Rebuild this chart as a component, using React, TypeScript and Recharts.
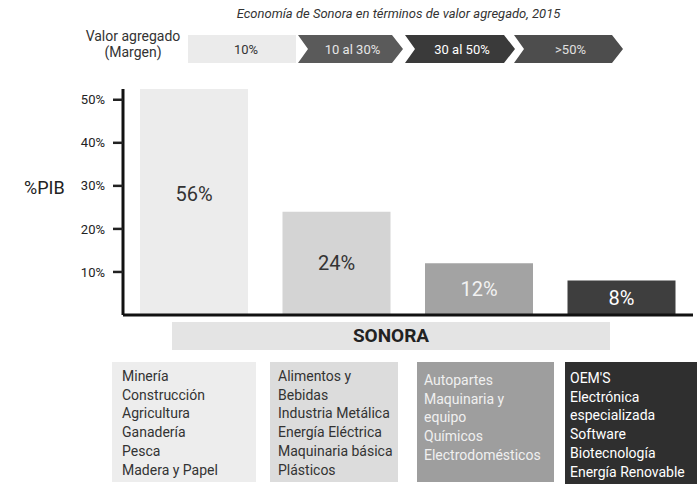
import { BarChart, Bar, XAxis, YAxis, LabelList, Cell } from 'recharts'

// Economía de Sonora en términos de valor agregado, 2015
const categories = ['<10%', '10 al 30%', '30 al 50%', '>50%']
const pibShare = [56, 24, 12, 8]
const yTicks = [10, 20, 30, 40, 50]
const marginLabels = ['10%', '10 al 30%', '30 al 50%', '>50%']
const sectors = [
  ['Minería', 'Construcción', 'Agricultura', 'Ganadería', 'Pesca', 'Madera y Papel'],
  ['Alimentos y', 'Bebidas', 'Industria Metálica', 'Energía Eléctrica', 'Maquinaria básica', 'Plásticos'],
  ['Autopartes', 'Maquinaria y', 'equipo', 'Químicos', 'Electrodomésticos'],
  ["OEM'S", 'Electrónica', 'especializada', 'Software', 'Biotecnología', 'Energía Renovable'],
]

const data = categories.map((name, i) => ({ name, value: pibShare[i] }))

const FONT = 'Roboto, "Liberation Sans", sans-serif'
const barFills = ['#ececec', '#d4d4d4', '#a3a3a3', '#3e3e3e']
const labelColors = ['#333333', '#333333', '#f2f2f2', '#ffffff']
const boxStyles = [
  { left: 112, top: 362, width: 144, height: 120, bg: '#ededed', color: '#333', pt: 5, pl: 10 },
  { left: 270, top: 362, width: 128, height: 120, bg: '#dcdcdc', color: '#333', pt: 5, pl: 8 },
  { left: 417, top: 362, width: 137, height: 120, bg: '#9e9e9e', color: '#f0f0f0', pt: 9, pl: 7 },
  { left: 565, top: 362, width: 132, height: 122, bg: '#2f2f2f', color: '#ffffff', pt: 7, pl: 5 },
]
const chevrons = [
  { l: 188, r: 296, fill: '#ebebeb', color: '#333', first: true },
  { l: 298, r: 403, fill: '#5a5a5a', color: '#e6e6e6' },
  { l: 405, r: 515, fill: '#3a3a3a', color: '#ffffff' },
  { l: 514, r: 623, fill: '#4d4d4d', color: '#e0e0e0' },
]

function BarValue(props: any) {
  const { x, y, width, height, value, index } = props
  return (
    <text
      x={x + width / 2}
      y={y + height / 2 + 7}
      textAnchor="middle"
      fontFamily={FONT}
      fontSize={20}
      fontWeight={400}
      fill={labelColors[index]}
    >
      {`${value}%`}
    </text>
  )
}

export default function App() {
  return (
    <div style={{ position: 'absolute', left: 0, top: 0, width: 697, height: 484, background: '#fff', fontFamily: FONT, overflow: 'hidden' }}>
      <div style={{ position: 'absolute', left: 0, width: 697, top: 6, textAlign: 'center', paddingLeft: 100, boxSizing: 'border-box', fontSize: 13, fontStyle: 'italic', color: '#333' }}>
        Economía de Sonora en términos de valor agregado, 2015
      </div>
      <div style={{ position: 'absolute', left: 78, top: 28, width: 110, textAlign: 'center', fontSize: 14, lineHeight: '16px', color: '#333' }}>
        Valor agregado<br />(Margen)
      </div>
      <svg width={697} height={80} style={{ position: 'absolute', left: 0, top: 0 }}>
        {chevrons.map((c, i) => {
          const pts = c.first
            ? `${c.l},35 ${c.r},35 ${c.r},63 ${c.l},63`
            : `${c.l},35 ${c.r - 11},35 ${c.r},49 ${c.r - 11},63 ${c.l},63 ${c.l + 10},49`
          return (
            <g key={i}>
              <polygon points={pts} fill={c.fill} />
              <text x={(c.l + c.r) / 2 + (c.first ? 4 : 2)} y={54} textAnchor="middle" fontSize={13} fontFamily={FONT} fill={c.color}>
                {marginLabels[i]}
              </text>
            </g>
          )
        })}
      </svg>

      <div style={{ position: 'absolute', left: 24, top: 177, fontSize: 18, fontWeight: 400, color: '#222' }}>%PIB</div>

      <div style={{ position: 'absolute', left: 0, top: 0 }}>
        <BarChart width={697} height={330} data={data} margin={{ top: 89, right: 4, bottom: 13, left: 0 }} barSize={108}>
          <XAxis dataKey="name" height={2} tick={false} tickLine={false} axisLine={{ stroke: '#111', strokeWidth: 3 }} />
          <YAxis
            width={123}
            domain={[0, 52.5]}
            allowDataOverflow
            ticks={yTicks}
            tickFormatter={(v: number) => `${v}%`}
            tickSize={10}
            tickMargin={8}
            tick={{ fontSize: 13, fill: '#222', fontFamily: FONT }}
            tickLine={{ stroke: '#222', strokeWidth: 2.5 }}
            axisLine={{ stroke: '#111', strokeWidth: 3 }}
          />
          <Bar dataKey="value" isAnimationActive={false}>
            {data.map((_, i) => (
              <Cell key={i} fill={barFills[i]} />
            ))}
            <LabelList dataKey="value" content={BarValue} />
          </Bar>
        </BarChart>
      </div>

      <div style={{ position: 'absolute', left: 172, top: 322, width: 438, height: 28, background: '#e4e4e4', textAlign: 'center', lineHeight: '28px', fontSize: 19, fontWeight: 700, color: '#222' }}>
        SONORA
      </div>

      {sectors.map((list, i) => {
        const s = boxStyles[i]
        return (
          <div key={i} style={{ position: 'absolute', left: s.left, top: s.top, width: s.width, height: s.height, background: s.bg, color: s.color, boxSizing: 'border-box', paddingTop: s.pt, paddingLeft: s.pl, fontSize: 14, lineHeight: '18.7px', whiteSpace: 'nowrap' }}>
            {list.map((t) => (
              <div key={t}>{t}</div>
            ))}
          </div>
        )
      })}
    </div>
  )
}
